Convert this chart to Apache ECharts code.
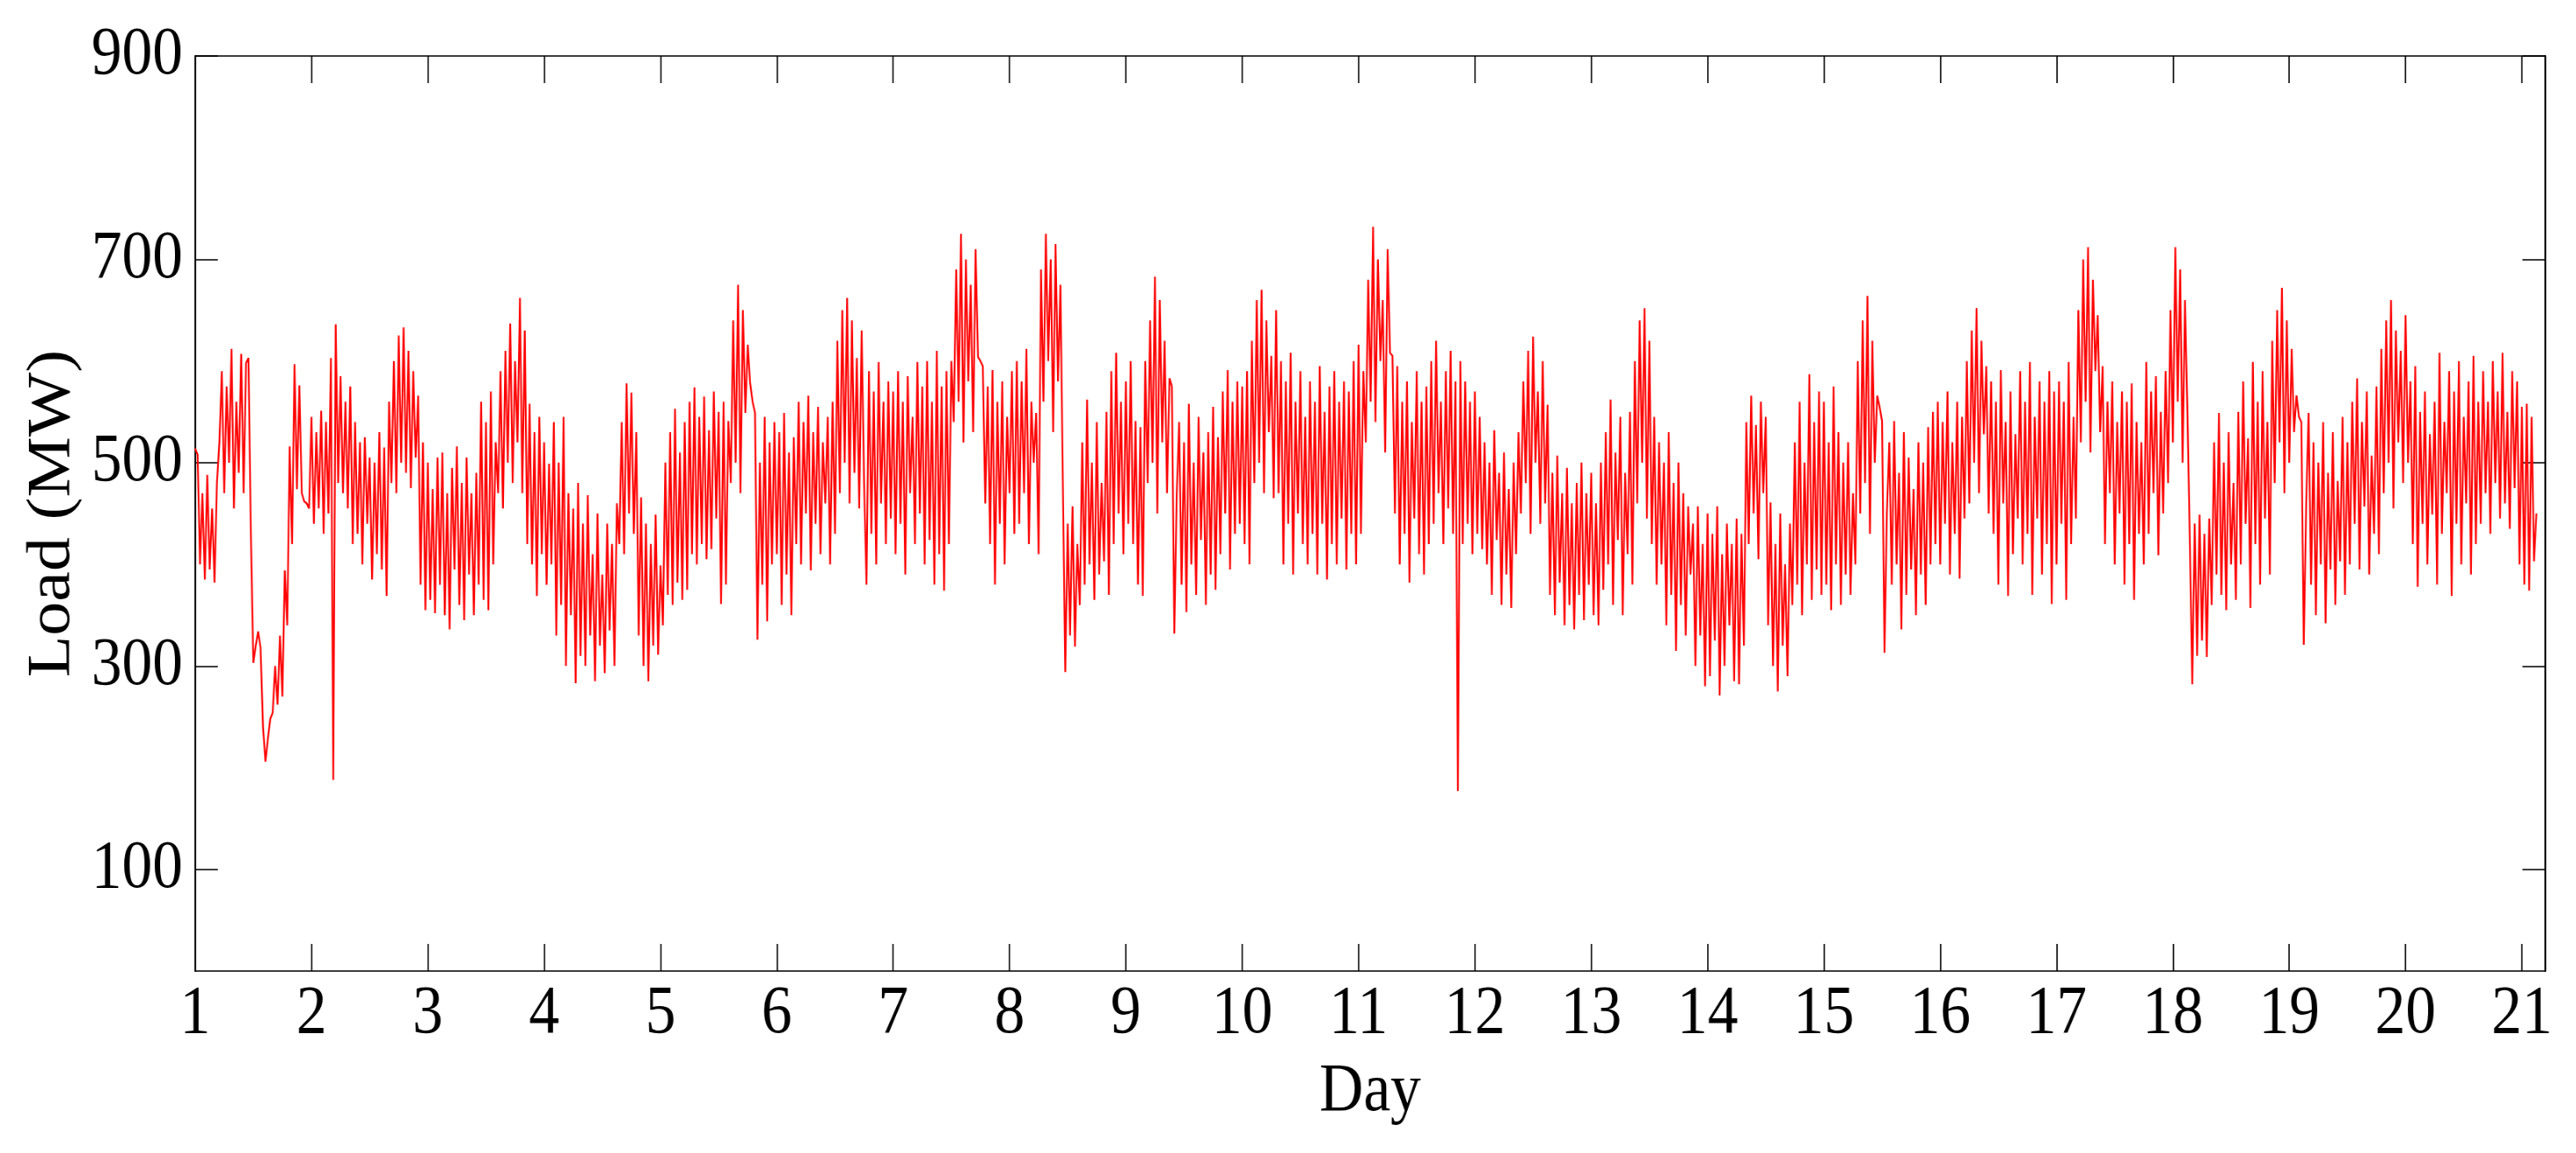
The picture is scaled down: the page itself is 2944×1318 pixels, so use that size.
<!DOCTYPE html>
<html>
<head>
<meta charset="utf-8">
<title>Load</title>
<script src="https://cdn.jsdelivr.net/npm/echarts@6/dist/echarts.min.js"></script>
<style>
  html, body { margin: 0; padding: 0; background: #fff; overflow: hidden; }
  #chart { height: 1318px; transform-origin: 0 0; }
</style>
</head>
<body>
<div id="chart"></div>
<script>
// tick labels
const dayTicks = [1, 2, 3, 4, 5, 6, 7, 8, 9, 10, 11, 12, 13, 14, 15, 16, 17, 18, 19, 20, 21];
const loadTicks = [100, 300, 500, 700, 900];

// half-hourly load (MW), one row per day
const pointsPerDay = 48;
const load = [
  514, 508, 400, 470, 385, 488, 395, 455, 382, 480, 520, 590, 470, 575, 500, 612, 455, 560, 490, 607, 470, 598, 603, 430, 303, 320, 334, 318, 240, 206, 228, 248, 254, 300, 262, 330, 270, 394, 340, 516, 420, 597, 474, 576, 470, 462, 460, 455,
  545, 440, 530, 455, 551, 430, 540, 450, 603, 188, 636, 480, 585, 470, 560, 455, 575, 420, 540, 430, 520, 400, 525, 440, 505, 385, 500, 410, 530, 395, 515, 369, 560, 480, 600, 470, 625, 500, 633, 490, 610, 475, 590, 505, 566, 380, 520, 355,
  500, 365, 474, 352, 505, 380, 510, 350, 470, 336, 495, 395, 516, 360, 480, 345, 505, 390, 470, 350, 490, 380, 560, 365, 540, 355, 570, 400, 520, 470, 590, 455, 610, 500, 637, 480, 600, 520, 662, 470, 630, 420, 558, 400, 530, 369, 545, 410,
  520, 380, 499, 400, 540, 330, 500, 360, 545, 300, 470, 350, 455, 283, 480, 310, 440, 300, 468, 330, 410, 285, 450, 320, 390, 293, 440, 335, 420, 300, 460, 420, 540, 410, 578, 450, 569, 430, 530, 330, 466, 300, 440, 285, 420, 320, 449, 311,
  399, 340, 500, 370, 530, 360, 553, 382, 510, 365, 540, 375, 560, 410, 574, 400, 545, 420, 565, 405, 532, 415, 570, 445, 550, 361, 560, 380, 541, 480, 640, 500, 675, 470, 650, 549, 616, 578, 560, 549, 326, 500, 380, 545, 344, 520, 400, 540,
  410, 530, 360, 549, 390, 510, 350, 525, 420, 560, 400, 540, 450, 566, 394, 530, 440, 555, 410, 520, 460, 545, 400, 560, 430, 620, 470, 650, 500, 662, 460, 640, 490, 603, 455, 630, 480, 380, 590, 430, 570, 400, 599, 460, 560, 420, 580, 445,
  570, 410, 590, 440, 560, 390, 585, 470, 545, 420, 599, 450, 575, 400, 600, 424, 560, 380, 610, 410, 575, 374, 590, 420, 600, 540, 690, 560, 725, 520, 700, 580, 675, 530, 710, 604, 600, 595, 460, 575, 420, 591, 380, 560, 440, 580, 400, 545,
  470, 590, 430, 600, 440, 580, 470, 612, 420, 560, 500, 549, 410, 690, 560, 725, 600, 700, 530, 715, 580, 675, 482, 294, 440, 330, 457, 319, 420, 360, 520, 380, 562, 400, 500, 365, 540, 390, 480, 403, 550, 370, 590, 420, 608, 450, 560, 410,
  580, 440, 600, 420, 541, 380, 535, 369, 600, 480, 640, 500, 683, 450, 660, 520, 620, 470, 583, 575, 332, 470, 540, 380, 520, 353, 558, 400, 500, 370, 545, 424, 510, 360, 530, 390, 555, 375, 525, 410, 570, 450, 591, 395, 560, 430, 580, 440,
  575, 420, 590, 400, 620, 480, 660, 500, 670, 470, 640, 530, 605, 465, 650, 470, 600, 400, 580, 440, 608, 390, 560, 450, 590, 420, 545, 400, 580, 430, 560, 390, 595, 440, 550, 385, 575, 420, 590, 400, 560, 445, 580, 395, 570, 430, 600, 400,
  616, 430, 590, 520, 680, 560, 732, 540, 700, 600, 660, 510, 710, 608, 605, 450, 595, 400, 560, 430, 580, 382, 540, 445, 590, 410, 560, 390, 575, 420, 600, 440, 620, 470, 560, 420, 590, 455, 610, 430, 580, 177, 600, 420, 580, 440, 560, 410,
  570, 430, 545, 415, 520, 400, 500, 370, 532, 424, 490, 360, 510, 390, 474, 357, 500, 410, 530, 450, 580, 480, 610, 430, 624, 500, 570, 440, 600, 460, 557, 370, 490, 350, 507, 382, 470, 340, 495, 360, 460, 336, 480, 370, 500, 345, 470, 380,
  490, 350, 460, 340, 500, 375, 530, 400, 562, 360, 510, 424, 545, 350, 490, 410, 550, 380, 600, 460, 640, 500, 652, 445, 620, 420, 545, 380, 520, 400, 500, 340, 530, 370, 480, 315, 500, 360, 470, 330, 457, 390, 440, 300, 457, 330, 420, 280,
  450, 290, 430, 325, 457, 271, 410, 300, 440, 340, 420, 285, 445, 282, 430, 320, 540, 420, 566, 450, 537, 405, 560, 470, 545, 340, 461, 300, 420, 275, 450, 320, 400, 290, 440, 360, 520, 380, 560, 350, 500, 400, 587, 365, 540, 395, 570, 370,
  560, 380, 520, 355, 575, 400, 530, 360, 500, 390, 520, 370, 470, 400, 600, 450, 640, 480, 664, 430, 620, 500, 566, 555, 541, 313, 450, 520, 380, 541, 400, 490, 336, 530, 370, 505, 395, 474, 350, 520, 390, 500, 360, 535, 400, 550, 420, 560,
  400, 540, 440, 570, 390, 520, 430, 560, 386, 545, 445, 600, 460, 630, 500, 652, 470, 620, 528, 595, 450, 580, 430, 560, 380, 591, 460, 540, 369, 570, 410, 528, 445, 590, 400, 560, 430, 599, 370, 545, 445, 580, 390, 560, 420, 590, 361, 570,
  400, 580, 440, 560, 365, 599, 420, 545, 445, 650, 520, 700, 560, 712, 510, 680, 590, 645, 530, 595, 420, 560, 470, 580, 400, 540, 450, 570, 380, 560, 420, 578, 365, 540, 430, 520, 400, 599, 430, 570, 470, 585, 409, 550, 450, 590, 480, 650,
  520, 712, 560, 690, 500, 660, 550, 420, 282, 440, 310, 449, 325, 430, 309, 445, 360, 520, 390, 549, 370, 500, 355, 530, 400, 480, 365, 550, 400, 580, 440, 524, 357, 599, 420, 560, 380, 590, 445, 540, 390, 620, 480, 650, 520, 672, 470, 640,
  500, 612, 530, 566, 545, 540, 321, 460, 549, 380, 520, 350, 500, 400, 540, 342, 490, 395, 530, 360, 482, 403, 545, 370, 520, 400, 560, 440, 583, 395, 540, 457, 570, 390, 507, 430, 575, 410, 612, 470, 640, 500, 660, 455, 630, 520, 610, 480,
  645, 500, 580, 420, 595, 378, 550, 440, 570, 400, 528, 449, 560, 380, 608, 430, 540, 470, 590, 369, 570, 440, 600, 400, 545, 460, 580, 390, 605, 420, 560, 440, 590, 470, 560, 430, 600, 480, 570, 445, 608, 460, 550, 435, 590, 475, 580, 400,
  555, 380, 558, 374, 545, 403, 450
];

// the original figure's lettering is taller than it is wide, so the chart is
// drawn K times wider and squeezed back horizontally
const K = 1.12;
const W = 2944;
const el = document.getElementById('chart');
el.style.width = Math.round(W * K) + 'px';
el.style.transform = 'scaleX(' + (1 / K) + ')';

const chart = echarts.init(el);
const font = 'Liberation Serif';
const black = '#000';
const fontSize = 78;

// data points: day position from sample index
const seriesData = load.map((v, i) => [1 + i / pointsPerDay, v]);

function boxX(position, withLabels) {
  return {
    type: 'value',
    min: 1,
    max: 21.2,
    position: position,
    axisLine: { show: true, onZero: false, lineStyle: { color: black, width: 1.5 } },
    axisTick: { show: true, inside: true, length: 31, customValues: dayTicks, lineStyle: { color: black, width: 1.5 * K } },
    axisLabel: { show: withLabels, customValues: dayTicks, fontFamily: font, fontSize: fontSize, color: black, margin: 11 },
    splitLine: { show: false }
  };
}

function boxY(position, withLabels) {
  return {
    type: 'value',
    min: 0,
    max: 900,
    position: position,
    axisLine: { show: true, onZero: false, lineStyle: { color: black, width: 2 * K } },
    axisTick: { show: true, inside: true, length: 26 * K, customValues: loadTicks, lineStyle: { color: black, width: 1.5 } },
    axisLabel: { show: withLabels, customValues: loadTicks, fontFamily: font, fontSize: fontSize, color: black, margin: 14 * K },
    splitLine: { show: false }
  };
}

const xBottom = boxX('bottom', true);
xBottom.name = 'Day';
xBottom.nameLocation = 'middle';
xBottom.nameGap = 100;
xBottom.nameTextStyle = { fontFamily: font, fontSize: fontSize, color: black };

const yLeft = boxY('left', true);
yLeft.name = 'Load (MW)';
yLeft.nameLocation = 'middle';
yLeft.nameGap = 127;
yLeft.nameTextStyle = { fontFamily: font, fontSize: fontSize, color: black };

const option = {
  animation: false,
  backgroundColor: '#fff',
  grid: { left: 223 * K, right: 35 * K, top: 64, bottom: 208, containLabel: false, outerBoundsMode: 'none' },
  xAxis: [xBottom, boxX('top', false)],
  yAxis: [yLeft, boxY('right', false)],
  series: [
    {
      type: 'line',
      xAxisIndex: 0,
      yAxisIndex: 0,
      data: seriesData,
      showSymbol: false,
      sampling: null,
      lineStyle: { color: '#ff0000', width: 2.2 },
      itemStyle: { color: '#ff0000' }
    }
  ]
};

chart.setOption(option);
window.addEventListener('resize', () => chart.resize());
</script>
</body>
</html>
